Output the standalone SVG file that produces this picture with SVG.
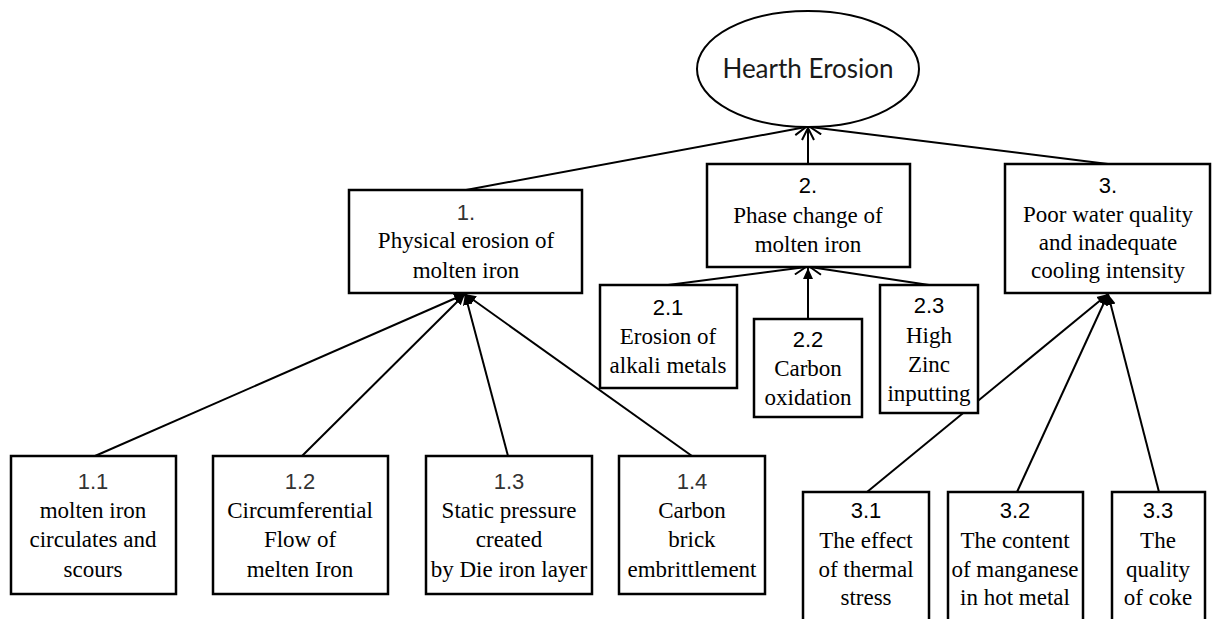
<svg xmlns="http://www.w3.org/2000/svg" width="1215" height="619" viewBox="0 0 1215 619">
<style>
.box{fill:#fff;stroke:#000;stroke-width:2.5}
.ell{fill:#fff;stroke:#000;stroke-width:2}
.t{font-family:"Liberation Serif","Times New Roman",serif;font-size:23px;fill:#000;text-anchor:middle}
.n{font-family:"Liberation Sans",Arial,sans-serif;font-size:22px;fill:#000;text-anchor:middle}
.g{fill:#333}
.h{font-family:Lato,"Open Sans",sans-serif;font-size:26px;fill:#1a1a1a;text-anchor:middle}
.c{stroke:#000;stroke-width:2;fill:none}
</style>
<defs>
<marker id="open" markerWidth="14" markerHeight="14" refX="13" refY="7" orient="auto" markerUnits="userSpaceOnUse">
<path d="M1,1 L13,7 L1,13" fill="none" stroke="#000" stroke-width="2"/>
</marker>
<marker id="fill" markerWidth="12" markerHeight="12" refX="11" refY="6" orient="auto" markerUnits="userSpaceOnUse">
<path d="M0,1 L11,6 L0,11 z" fill="#000"/>
</marker>
</defs>
<rect width="1215" height="619" fill="#fff"/>
<g id="connectors">
<line class="c" x1="466" y1="190" x2="806" y2="127" marker-end="url(#open)"/>
<line class="c" x1="808" y1="164" x2="808" y2="128" marker-end="url(#open)"/>
<line class="c" x1="1108" y1="164" x2="810" y2="127" marker-end="url(#open)"/>
<line class="c" x1="668" y1="285" x2="806" y2="267" marker-end="url(#open)"/>
<line class="c" x1="808" y1="319" x2="808" y2="268" marker-end="url(#fill)"/>
<line class="c" x1="929" y1="285" x2="810" y2="267" marker-end="url(#open)"/>
<line class="c" x1="95" y1="456" x2="465" y2="294" marker-end="url(#fill)"/>
<line class="c" x1="302" y1="456" x2="465" y2="294" marker-end="url(#fill)"/>
<line class="c" x1="508" y1="456" x2="465" y2="294" marker-end="url(#fill)"/>
<line class="c" x1="692" y1="456" x2="465" y2="294" marker-end="url(#fill)"/>
<line class="c" x1="867" y1="492" x2="1108" y2="294" marker-end="url(#fill)"/>
<line class="c" x1="1017" y1="492" x2="1108" y2="294" marker-end="url(#fill)"/>
<line class="c" x1="1159" y1="492" x2="1108" y2="294" marker-end="url(#fill)"/>
</g>
<g id="root">
<ellipse class="ell" cx="808" cy="69" rx="111" ry="58"/>
<text class="h" x="808" y="78">Hearth Erosion</text>
</g>
<g id="n1">
<rect class="box" x="349" y="190" width="233" height="103"/>
<text class="n g" x="466" y="220">1.</text>
<text class="t" x="466" y="248">Physical erosion of</text>
<text class="t" x="466" y="278">molten iron</text>
</g>
<g id="n2">
<rect class="box" x="707" y="164" width="203" height="103"/>
<text class="n" x="808" y="193">2.</text>
<text class="t" x="808" y="223">Phase change of</text>
<text class="t" x="808" y="252">molten iron</text>
</g>
<g id="n3">
<rect class="box" x="1005" y="164" width="205" height="129"/>
<text class="n" x="1108" y="193">3.</text>
<text class="t" x="1108" y="222">Poor water quality</text>
<text class="t" x="1108" y="250">and inadequate</text>
<text class="t" x="1108" y="278">cooling intensity</text>
</g>
<g id="n2_1">
<rect class="box" x="600" y="285" width="137" height="103"/>
<text class="n" x="668" y="315">2.1</text>
<text class="t" x="668" y="344">Erosion of</text>
<text class="t" x="668" y="373">alkali metals</text>
</g>
<g id="n2_2">
<rect class="box" x="754" y="319" width="108" height="98"/>
<text class="n" x="808" y="347">2.2</text>
<text class="t" x="808" y="376">Carbon</text>
<text class="t" x="808" y="405">oxidation</text>
</g>
<g id="n2_3">
<rect class="box" x="880" y="285" width="98" height="128"/>
<text class="n" x="929" y="313">2.3</text>
<text class="t" x="929" y="343">High</text>
<text class="t" x="929" y="372">Zinc</text>
<text class="t" x="929" y="401">inputting</text>
</g>
<g id="n1_1">
<rect class="box" x="11" y="456" width="165" height="138"/>
<text class="n g" x="93" y="489">1.1</text>
<text class="t" x="93" y="518">molten iron</text>
<text class="t" x="93" y="547">circulates and</text>
<text class="t" x="93" y="577">scours</text>
</g>
<g id="n1_2">
<rect class="box" x="213" y="456" width="175" height="138"/>
<text class="n g" x="300" y="489">1.2</text>
<text class="t" x="300" y="518">Circumferential</text>
<text class="t" x="300" y="547">Flow of</text>
<text class="t" x="300" y="577">melten Iron</text>
</g>
<g id="n1_3">
<rect class="box" x="426" y="456" width="166" height="138"/>
<text class="n g" x="509" y="489">1.3</text>
<text class="t" x="509" y="518">Static pressure</text>
<text class="t" x="509" y="547">created</text>
<text class="t" x="509" y="577">by Die iron layer</text>
</g>
<g id="n1_4">
<rect class="box" x="619" y="456" width="146" height="138"/>
<text class="n g" x="692" y="489">1.4</text>
<text class="t" x="692" y="518">Carbon</text>
<text class="t" x="692" y="547">brick</text>
<text class="t" x="692" y="577">embrittlement</text>
</g>
<g id="n3_1">
<rect class="box" x="803" y="492" width="126" height="140"/>
<text class="n" x="866" y="518">3.1</text>
<text class="t" x="866" y="548">The effect</text>
<text class="t" x="866" y="577">of thermal</text>
<text class="t" x="866" y="605">stress</text>
</g>
<g id="n3_2">
<rect class="box" x="948" y="492" width="135" height="140"/>
<text class="n" x="1015" y="518">3.2</text>
<text class="t" x="1015" y="548">The content</text>
<text class="t" x="1015" y="577">of manganese</text>
<text class="t" x="1015" y="605">in hot metal</text>
</g>
<g id="n3_3">
<rect class="box" x="1112" y="492" width="93" height="140"/>
<text class="n" x="1158" y="518">3.3</text>
<text class="t" x="1158" y="548">The</text>
<text class="t" x="1158" y="577">quality</text>
<text class="t" x="1158" y="605">of coke</text>
</g>
</svg>
